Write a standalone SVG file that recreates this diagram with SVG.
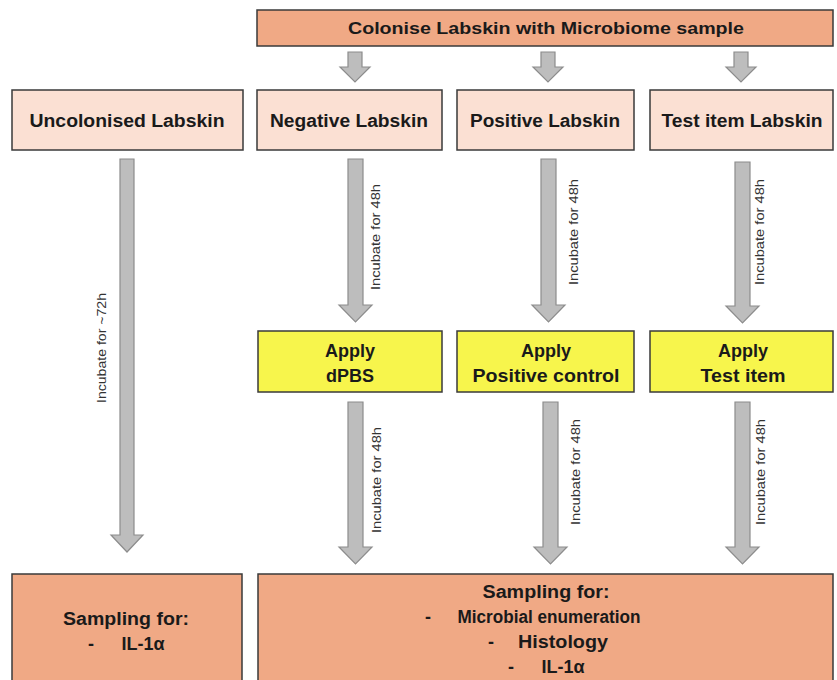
<svg xmlns="http://www.w3.org/2000/svg" width="837" height="680" viewBox="0 0 837 680">
<defs>
<style>
.box{stroke:#3a3a3a;stroke-width:1.5}
.orange{fill:#F0A985}
.pink{fill:#FBE0D3}
.yellow{fill:#F7F54C}
.t{font-family:"Liberation Sans",Arial,sans-serif;font-weight:bold;fill:#1a1a1a;text-anchor:middle}
.lbl{font-family:"Liberation Sans",Arial,sans-serif;font-size:12.5px;fill:#333;text-anchor:middle;dominant-baseline:central}
.arr{fill:#BDBDBD;stroke:#8C8C8C;stroke-width:1.2}
</style>
</defs>
<rect width="837" height="680" fill="#ffffff"/>

<g id="colonise">
<rect class="box orange" x="257" y="10" width="576" height="36"/>
<text class="t" x="546" y="34" font-size="17" textLength="396" lengthAdjust="spacingAndGlyphs">Colonise Labskin with Microbiome sample</text>
</g>

<g id="uncolonised">
<rect class="box pink" x="12" y="90" width="231" height="60"/>
<text class="t" x="127" y="127" font-size="18" textLength="195" lengthAdjust="spacingAndGlyphs">Uncolonised Labskin</text>
</g>
<g id="negative">
<rect class="box pink" x="257" y="90" width="185" height="60"/>
<text class="t" x="349" y="127" font-size="18" textLength="158" lengthAdjust="spacingAndGlyphs">Negative Labskin</text>
</g>
<g id="positive">
<rect class="box pink" x="457" y="90" width="177" height="60"/>
<text class="t" x="545" y="127" font-size="18" textLength="150" lengthAdjust="spacingAndGlyphs">Positive Labskin</text>
</g>
<g id="testitem">
<rect class="box pink" x="650" y="90" width="183" height="60"/>
<text class="t" x="742" y="127" font-size="18" textLength="161" lengthAdjust="spacingAndGlyphs">Test item Labskin</text>
</g>

<g id="apply-dpbs">
<rect class="box yellow" x="258" y="331" width="184" height="61"/>
<text class="t" x="350" y="357" font-size="18">Apply</text>
<text class="t" x="350" y="382" font-size="18">dPBS</text>
</g>
<g id="apply-positive">
<rect class="box yellow" x="457" y="331" width="177" height="61"/>
<text class="t" x="546" y="357" font-size="18">Apply</text>
<text class="t" x="546" y="382" font-size="18" textLength="147" lengthAdjust="spacingAndGlyphs">Positive control</text>
</g>
<g id="apply-test">
<rect class="box yellow" x="650" y="331" width="183" height="61"/>
<text class="t" x="743" y="357" font-size="18">Apply</text>
<text class="t" x="743" y="382" font-size="18" textLength="85" lengthAdjust="spacingAndGlyphs">Test item</text>
</g>

<g id="sampling-left">
<rect class="box orange" x="12" y="574" width="230" height="112"/>
<text class="t" x="126" y="625" font-size="18" textLength="126" lengthAdjust="spacingAndGlyphs">Sampling for:</text>
<text class="t" x="91" y="650" font-size="18">-</text>
<text class="t" x="143" y="650" font-size="18">IL-1α</text>
</g>
<g id="sampling-right">
<rect class="box orange" x="258" y="574" width="575" height="112"/>
<text class="t" x="546" y="598" font-size="18" textLength="127" lengthAdjust="spacingAndGlyphs">Sampling for:</text>
<text class="t" x="428" y="623" font-size="18">-</text>
<text class="t" x="549" y="623" font-size="18" textLength="183" lengthAdjust="spacingAndGlyphs">Microbial enumeration</text>
<text class="t" x="491" y="648" font-size="18">-</text>
<text class="t" x="563" y="648" font-size="18" textLength="90" lengthAdjust="spacingAndGlyphs">Histology</text>
<text class="t" x="511" y="673" font-size="18">-</text>
<text class="t" x="563" y="673" font-size="18">IL-1α</text>
</g>

<g id="connectors">
<!-- top small arrows -->
<path class="arr" d="M348,52 H362 V67 H370 L355,82 L340,67 H348 Z"/>
<path class="arr" d="M541,52 H555 V67 H563 L548,82 L533,67 H541 Z"/>
<path class="arr" d="M734,52 H748 V67 H756 L741,82 L726,67 H734 Z"/>
<!-- long left arrow -->
<path class="arr" d="M120,159 H134 V535 H143 L127,552 L111,535 H120 Z"/>
<text class="lbl" transform="translate(102,348) rotate(-90)" textLength="110" lengthAdjust="spacingAndGlyphs">Incubate for ~72h</text>
<!-- first row incubation arrows -->
<path class="arr" d="M348,159 H363 V305 H372 L355.5,322 L339,305 H348 Z"/>
<text class="lbl" transform="translate(376,237) rotate(-90)" textLength="106" lengthAdjust="spacingAndGlyphs">Incubate for 48h</text>
<path class="arr" d="M541,159 H556 V305 H565 L548.5,322 L532,305 H541 Z"/>
<text class="lbl" transform="translate(574,232) rotate(-90)" textLength="106" lengthAdjust="spacingAndGlyphs">Incubate for 48h</text>
<path class="arr" d="M735,162 H750 V306 H759 L742.5,323 L726,306 H735 Z"/>
<text class="lbl" transform="translate(760,232) rotate(-90)" textLength="106" lengthAdjust="spacingAndGlyphs">Incubate for 48h</text>
<!-- second row incubation arrows -->
<path class="arr" d="M348,402 H363 V547 H372 L355.5,564 L339,547 H348 Z"/>
<text class="lbl" transform="translate(377,480) rotate(-90)" textLength="106" lengthAdjust="spacingAndGlyphs">Incubate for 48h</text>
<path class="arr" d="M543,402 H558 V547 H567 L550.5,564 L534,547 H543 Z"/>
<text class="lbl" transform="translate(576,472) rotate(-90)" textLength="106" lengthAdjust="spacingAndGlyphs">Incubate for 48h</text>
<path class="arr" d="M735,402 H750 V547 H759 L742.5,564 L726,547 H735 Z"/>
<text class="lbl" transform="translate(761,472) rotate(-90)" textLength="106" lengthAdjust="spacingAndGlyphs">Incubate for 48h</text>
</g>
</svg>
